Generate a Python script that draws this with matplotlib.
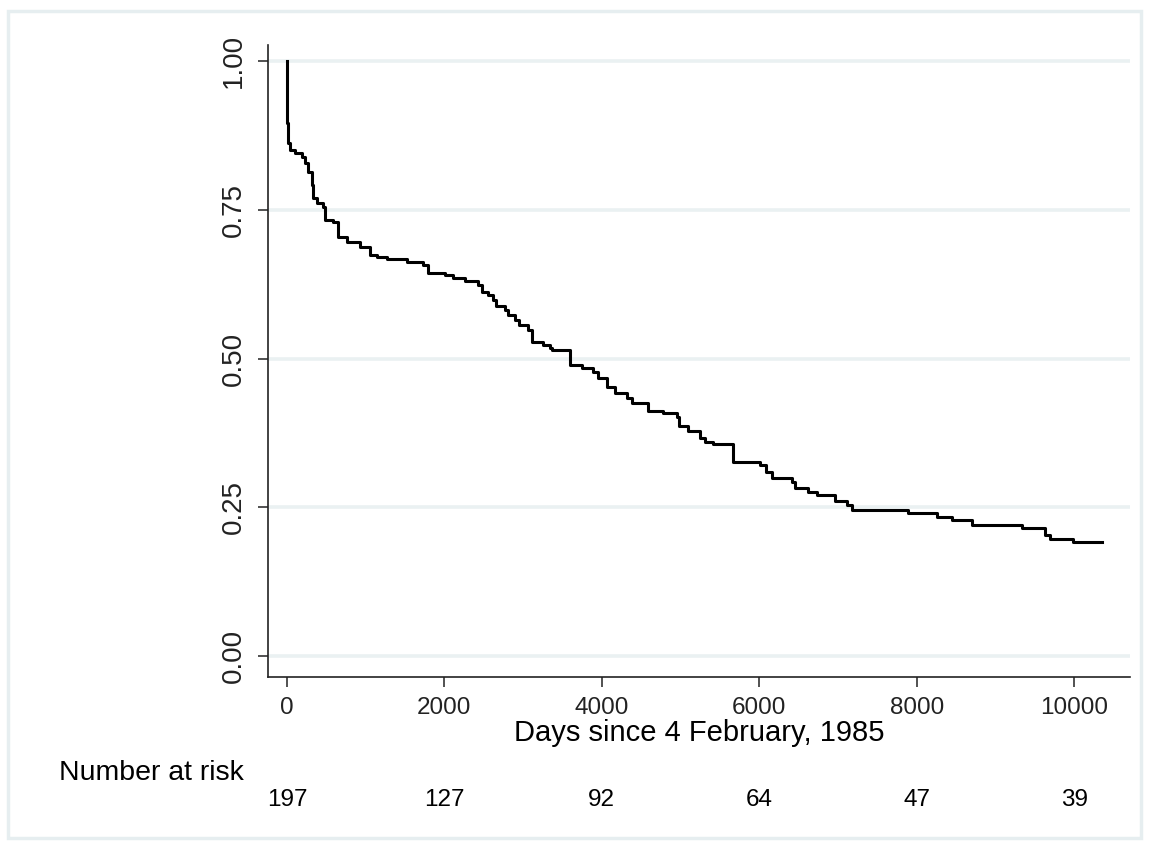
import matplotlib.pyplot as plt
from matplotlib.patches import Rectangle

# Kaplan-Meier estimate (days, survival after the step)
days = [0, 5, 15, 38, 100, 190, 230, 265, 318, 330, 380, 457, 483, 585, 648,
        762, 928, 1055, 1144, 1271, 1525, 1728, 1792, 2008, 2109, 2262, 2427,
        2478, 2554, 2618, 2656, 2770, 2808, 2897, 2948, 3062, 3113, 3253, 3342,
        3367, 3596, 3749, 3888, 3952, 4066, 4168, 4320, 4384, 4587, 4778, 4956,
        4981, 5096, 5248, 5312, 5414, 5667, 6010, 6087, 6163, 6417, 6455, 6620,
        6735, 6963, 7116, 7180, 7891, 8260, 8450, 8704, 9340, 9632, 9695, 9988,
        10356]
survival = [1.0, 0.896, 0.862, 0.850, 0.845, 0.839, 0.829, 0.813, 0.792, 0.770,
            0.761, 0.755, 0.733, 0.729, 0.704, 0.696, 0.687, 0.674, 0.671, 0.667,
            0.662, 0.657, 0.644, 0.640, 0.635, 0.630, 0.624, 0.612, 0.607, 0.598,
            0.588, 0.582, 0.573, 0.565, 0.556, 0.548, 0.528, 0.523, 0.518, 0.514,
            0.490, 0.484, 0.477, 0.467, 0.452, 0.442, 0.434, 0.426, 0.412, 0.408,
            0.402, 0.386, 0.379, 0.366, 0.360, 0.356, 0.326, 0.322, 0.310, 0.300,
            0.293, 0.282, 0.275, 0.270, 0.260, 0.254, 0.245, 0.240, 0.234, 0.228,
            0.220, 0.215, 0.203, 0.197, 0.192, 0.192]

xticks = [0, 2000, 4000, 6000, 8000, 10000]
yticks = [0.0, 0.25, 0.5, 0.75, 1.0]
at_risk = [197, 127, 92, 64, 47, 39]

plt.rcParams['font.family'] = ['Liberation Sans', 'DejaVu Sans']
grid_col = '#eaf1f2'

fig = plt.figure(figsize=(11.49, 8.42), dpi=100)
ax = fig.add_axes([0.2332, 0.196, 0.7503, 0.7506])

for y in yticks:
    ax.axhline(y, color=grid_col, lw=2.6, zorder=0)

ax.step(days, survival, where='post', color='black', lw=2.2, zorder=3)

ax.set_xlim(-241, 10709)
ax.set_ylim(-0.035, 1.027)
ax.set_xticks(xticks)
ax.set_xticklabels([str(v) for v in xticks], fontsize=17.5)
ax.set_yticks(yticks)
ax.set_yticklabels(['%.2f' % v for v in yticks], fontsize=20, rotation=90, va='center')
ax.tick_params(axis='x', length=7.5, width=1.1, pad=7, colors='#222222')
ax.tick_params(axis='y', length=7.5, width=1.1, pad=8, colors='#222222')
ax.set_xlabel('Days since 4 February, 1985', fontsize=21, labelpad=0)

for s in ['top', 'right']:
    ax.spines[s].set_visible(False)
for s in ['left', 'bottom']:
    ax.spines[s].set_linewidth(1.2)
    ax.spines[s].set_color('#222222')

# number at risk table
fig.text(0.0513, 0.0825, 'Number at risk', fontsize=20.5, ha='left', va='center')
trans = ax.get_xaxis_transform()
for x, n in zip(xticks, at_risk):
    ax.text(x, -0.195, str(n), transform=trans, fontsize=17.5,
            ha='center', va='center', clip_on=False)

# light outer frame
fig.patches.append(Rectangle((8 / 1149, 1 - 838 / 842), 1133 / 1149, 827 / 842,
                             transform=fig.transFigure, fill=False,
                             edgecolor='#e6eef0', lw=2.5))

plt.savefig('out.png', dpi=100)
plt.close()
